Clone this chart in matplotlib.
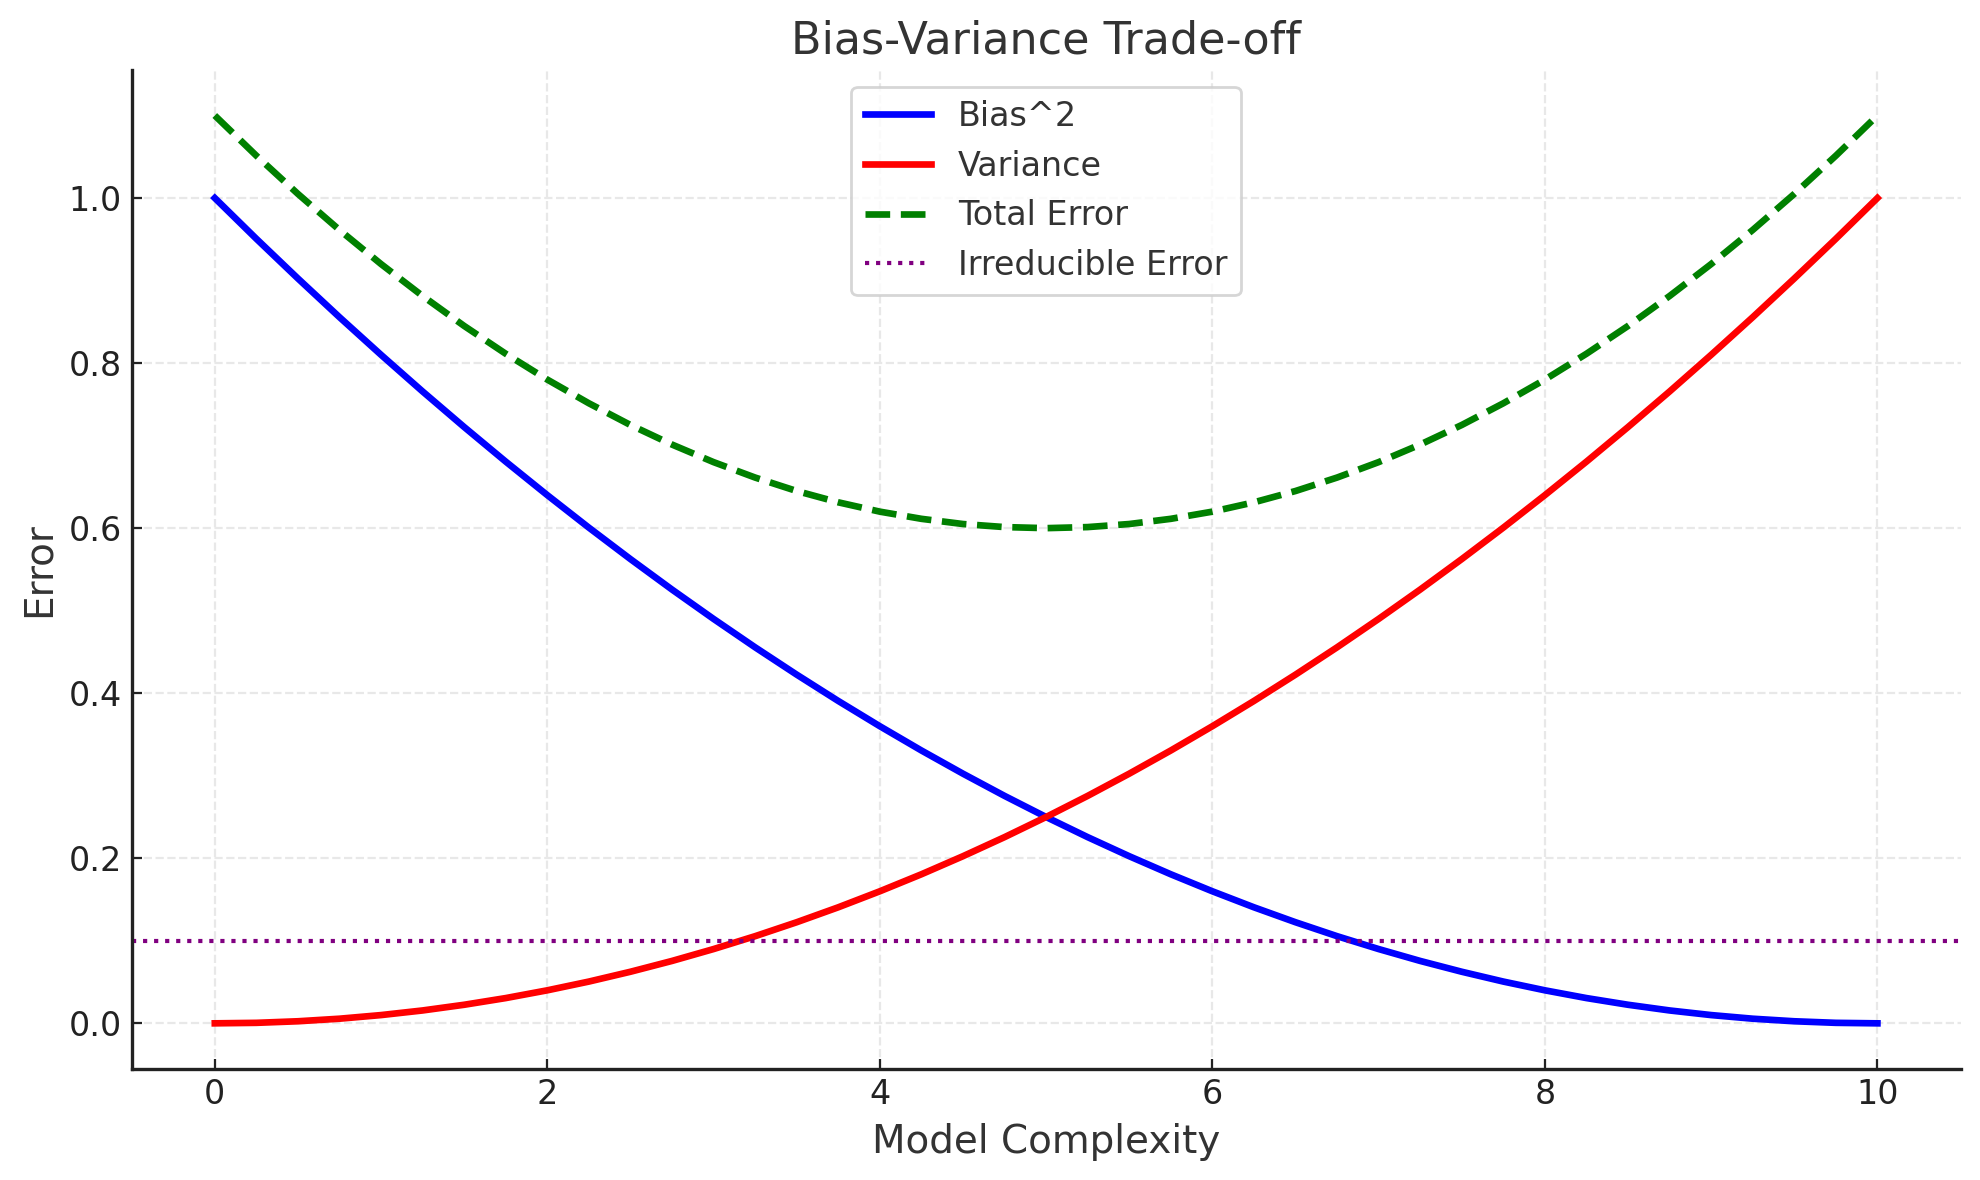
import matplotlib
matplotlib.use("Agg")
import matplotlib.pyplot as plt

# values at steps of 0.25
complexity = [0.0, 0.25, 0.5, 0.75, 1.0, 1.25, 1.5, 1.75, 2.0, 2.25, 2.5, 2.75, 3.0, 3.25,
              3.5, 3.75, 4.0, 4.25, 4.5, 4.75, 5.0, 5.25, 5.5, 5.75, 6.0, 6.25, 6.5, 6.75,
              7.0, 7.25, 7.5, 7.75, 8.0, 8.25, 8.5, 8.75, 9.0, 9.25, 9.5, 9.75, 10.0]
bias_sq = [1.0, 0.9506, 0.9025, 0.8556, 0.81, 0.7656, 0.7225, 0.6806, 0.64, 0.6006,
           0.5625, 0.5256, 0.49, 0.4556, 0.4225, 0.3906, 0.36, 0.3306, 0.3025, 0.2756,
           0.25, 0.2256, 0.2025, 0.1806, 0.16, 0.1406, 0.1225, 0.1056, 0.09, 0.0756,
           0.0625, 0.0506, 0.04, 0.0306, 0.0225, 0.0156, 0.01, 0.0056, 0.0025, 0.0006, 0.0]
variance = [0.0, 0.0006, 0.0025, 0.0056, 0.01, 0.0156, 0.0225, 0.0306, 0.04, 0.0506,
            0.0625, 0.0756, 0.09, 0.1056, 0.1225, 0.1406, 0.16, 0.1806, 0.2025, 0.2256,
            0.25, 0.2756, 0.3025, 0.3306, 0.36, 0.3906, 0.4225, 0.4556, 0.49, 0.5256,
            0.5625, 0.6006, 0.64, 0.6806, 0.7225, 0.7656, 0.81, 0.8556, 0.9025, 0.9506, 1.0]
total_error = [1.1, 1.0513, 1.005, 0.9613, 0.92, 0.8813, 0.845, 0.8113, 0.78, 0.7513,
               0.725, 0.7013, 0.68, 0.6613, 0.645, 0.6313, 0.62, 0.6113, 0.605, 0.6013,
               0.6, 0.6013, 0.605, 0.6113, 0.62, 0.6313, 0.645, 0.6613, 0.68, 0.7013,
               0.725, 0.7513, 0.78, 0.8113, 0.845, 0.8813, 0.92, 0.9613, 1.005, 1.0513, 1.1]
irreducible = 0.1

TXT = "#333333"
plt.rcParams.update({"text.color": TXT, "axes.labelcolor": TXT,
                     "xtick.color": "#222222", "ytick.color": "#222222",
                     "xtick.direction": "in", "ytick.direction": "in",
                     "xtick.labelsize": 12, "ytick.labelsize": 12})

fig, ax = plt.subplots(figsize=(9.9, 5.9), dpi=200)
ax.plot(complexity, bias_sq, color="blue", lw=2.4, label="Bias^2")
ax.plot(complexity, variance, color="red", lw=2.4, label="Variance")
ax.plot(complexity, total_error, "--", color="green", lw=2.4, label="Total Error")
ax.axhline(irreducible, color="purple", ls=":", lw=1.5, label="Irreducible Error")

ax.set_title("Bias-Variance Trade-off", fontsize=16)
ax.set_xlabel("Model Complexity", fontsize=14)
ax.set_ylabel("Error", fontsize=14)
ax.grid(True, ls="--", color="#e8e8e8", lw=0.8)
for s in ("top", "right"):
    ax.spines[s].set_visible(False)
for s in ("left", "bottom"):
    ax.spines[s].set_color("#222222")
    ax.spines[s].set_linewidth(1.2)
leg = ax.legend(loc="upper center", fontsize=12, frameon=True)
leg.get_frame().set_edgecolor("#cccccc")

fig.tight_layout(pad=0.7)
fig.savefig("out.png")
